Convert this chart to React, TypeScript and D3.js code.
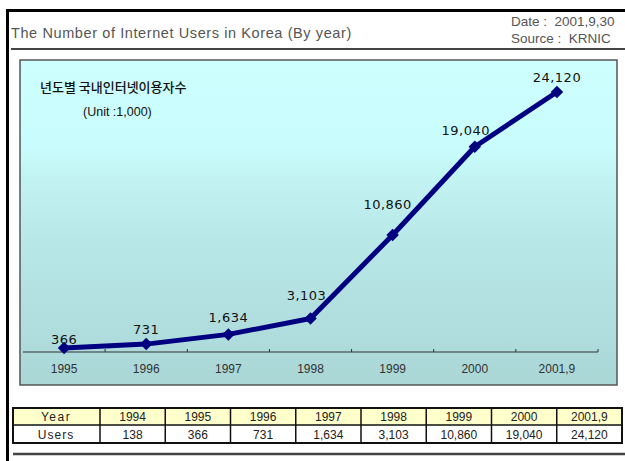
import React from 'react';
import * as d3 from 'd3';

// chart data
const axisYears = ['1995', '1996', '1997', '1998', '1999', '2000', '2001,9'];
const users = [366, 731, 1634, 3103, 10860, 19040, 24120];

// table data
const tableYears = ['1994', '1995', '1996', '1997', '1998', '1999', '2000', '2001,9'];
const tableUsers = [138, 366, 731, 1634, 3103, 10860, 19040, 24120];

// small offsets so the value labels sit like in the original
const labelNudge: [number, number][] = [
  [0, -4], [0, -10], [0, -12], [-4, -19], [-5, -26], [-9, -12], [0, -10],
];

const W = 625;
const H = 461;
const panel = { x: 20, y: 60, w: 597, h: 325 };
const axisY = 352;

const App: React.FC = () => {
  const x = d3.scaleBand<string>().domain(axisYears).range([23, 598]);
  const y = d3.scaleLinear().domain([0, 25000]).range([axisY, 82.5]);
  const fmt = d3.format(',');
  const cx = (d: string) => (x(d) ?? 0) + x.bandwidth() / 2;

  const pts = axisYears.map((d, i) => ({ year: d, v: users[i], px: cx(d), py: y(users[i]) }));
  const line = d3.line<typeof pts[0]>().x((d) => d.px).y((d) => d.py);
  const diamond = d3.symbol(d3.symbolSquare, 78)();

  const tickXs = axisYears.map((_, i) => 23 + x.step() * (i + 1));

  // table layout
  const tX = d3.scaleBand<string>().domain(tableYears).range([100, 622]);
  const rowY = [408, 425, 443];

  const gray = '#555';
  const nb = '\u00a0';

  return (
    <svg width={W} height={H} style={{ position: 'absolute', left: 0, top: 0, background: '#fff' }}>
      <defs>
        <linearGradient id="bg" x1="0" y1="0" x2="0" y2="1">
          <stop offset="0" stopColor="#cdffff" />
          <stop offset="0.27" stopColor="#c9fcfc" />
          <stop offset="0.4" stopColor="#c0f0f0" />
          <stop offset="0.55" stopColor="#b8e8e8" />
          <stop offset="0.7" stopColor="#b4e2e2" />
          <stop offset="1" stopColor="#aad6d6" />
        </linearGradient>
      </defs>

      {/* outer frame */}
      <line x1={7.5} y1={9} x2={7.5} y2={H} stroke="#000" strokeWidth={3} />
      <line x1={6} y1={10.5} x2={W} y2={10.5} stroke="#000" strokeWidth={3} />

      {/* header */}
      <text x={11} y={38} fontFamily="Liberation Sans, Arial" fontSize={14.5} letterSpacing={0.6} fill={gray}>
        The Number of Internet Users in Korea (By year)
      </text>
      <text x={511} y={26} fontFamily="Liberation Sans, Arial" fontSize={13.5} fill={gray}>{`Date :${nb}${nb}2001,9,30`}</text>
      <text x={511} y={43} fontFamily="Liberation Sans, Arial" fontSize={13.5} fill={gray}>{`Source :${nb}${nb}KRNIC`}</text>
      <line x1={11} y1={49} x2={W} y2={49} stroke="#444" strokeWidth={2} />

      {/* plot panel */}
      <rect x={panel.x} y={panel.y} width={panel.w} height={panel.h} fill="url(#bg)" stroke="#555" strokeWidth={1.5} />

      <text x={40} y={92} fontFamily="Noto Sans CJK KR" fontSize={13} fontWeight={500} fill="#111">년도별 국내인터넷이용자수</text>
      <text x={83} y={116} fontFamily="Liberation Sans, Arial" fontSize={12.5} fill="#111">(Unit :1,000)</text>

      {/* x axis */}
      <line x1={23} y1={axisY} x2={598} y2={axisY} stroke="#333" strokeWidth={1} />
      {tickXs.map((tx, i) => (
        <line key={i} x1={tx} y1={axisY} x2={tx} y2={axisY - 3} stroke="#333" strokeWidth={1} />
      ))}
      {axisYears.map((d) => (
        <text key={d} x={cx(d)} y={373} textAnchor="middle" fontFamily="Liberation Sans, Arial" fontSize={12} fill="#333">
          {d}
        </text>
      ))}

      {/* series */}
      <path d={line(pts) ?? ''} fill="none" stroke="#000080" strokeWidth={5} strokeLinejoin="round" />
      {pts.map((p) => (
        <path key={p.year} d={diamond ?? ''} transform={`translate(${p.px},${p.py}) rotate(45)`} fill="#000080" />
      ))}
      {pts.map((p, i) => (
        <text
          key={'l' + p.year}
          x={p.px + labelNudge[i][0]}
          y={p.py + labelNudge[i][1]}
          textAnchor="middle"
          fontFamily="DejaVu Sans"
          fontSize={13}
          letterSpacing={0.5}
          fill="#111"
        >
          {fmt(p.v)}
        </text>
      ))}

      {/* data table */}
      <rect x={13} y={rowY[0]} width={609} height={rowY[1] - rowY[0]} fill="#ffffcc" />
      <rect x={13} y={rowY[1]} width={609} height={rowY[2] - rowY[1]} fill="#fff" />
      <rect x={13} y={rowY[0]} width={609} height={rowY[2] - rowY[0]} fill="none" stroke="#111" strokeWidth={2} />
      <line x1={13} y1={rowY[1]} x2={622} y2={rowY[1]} stroke="#111" strokeWidth={1.5} />
      {tableYears.map((d) => (
        <line key={'c' + d} x1={tX(d)} y1={rowY[0]} x2={tX(d)} y2={rowY[2]} stroke="#111" strokeWidth={1.5} />
      ))}
      <text x={56} y={421} textAnchor="middle" fontFamily="Liberation Sans, Arial" fontSize={12} letterSpacing={1.5} fill="#222">Year</text>
      <text x={56} y={439} textAnchor="middle" fontFamily="Liberation Sans, Arial" fontSize={12} letterSpacing={1} fill="#222">Users</text>
      {tableYears.map((d, i) => (
        <g key={'t' + d}>
          <text x={(tX(d) ?? 0) + tX.bandwidth() / 2} y={421} textAnchor="middle" fontFamily="Liberation Sans, Arial" fontSize={12} fill="#222">
            {d}
          </text>
          <text x={(tX(d) ?? 0) + tX.bandwidth() / 2} y={439} textAnchor="middle" fontFamily="Liberation Sans, Arial" fontSize={12} fill="#222">
            {fmt(tableUsers[i])}
          </text>
        </g>
      ))}
      <line x1={13} y1={454} x2={W} y2={454} stroke="#444" strokeWidth={2.5} />
    </svg>
  );
};

export default App;
